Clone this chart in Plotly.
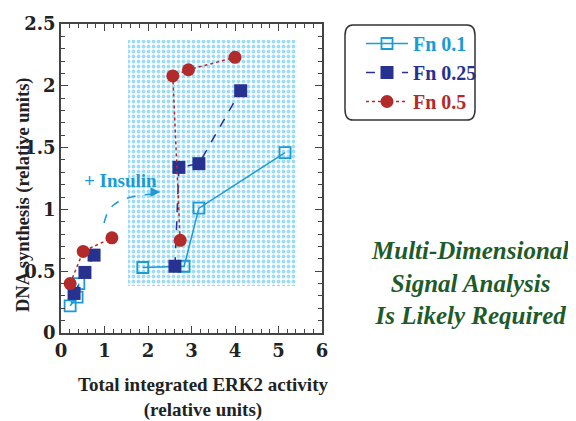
import plotly.graph_objects as go

# ---- data ----
fn01_x = [0.21, 0.37, 0.41, None, 1.88, 2.83, 3.17, 5.15]
fn01_y = [0.22, 0.29, 0.40, None, 0.53, 0.54, 1.01, 1.46]
fn025_x = [0.30, 0.55, 0.76, None, 2.62, 2.71, 3.17, 4.13]
fn025_y = [0.32, 0.49, 0.63, None, 0.54, 1.34, 1.37, 1.96]
fn05_x = [0.21, 0.51, 1.17, None, 2.74, 2.57, 2.93, 4.00]
fn05_y = [0.40, 0.66, 0.77, None, 0.75, 2.08, 2.13, 2.23]

region_x = [1.54, 5.42, 5.42, 1.54, 1.54]
region_y = [0.38, 0.38, 2.37, 2.37, 0.38]

x_ticks = [0, 1, 2, 3, 4, 5, 6]
y_ticks = [0, 0.5, 1, 1.5, 2, 2.5]
y_tick_text = ["0", "0.5", "1", "1.5", "2", "2.5"]

CYAN = "#1a9bd7"
NAVY = "#27318f"
RED = "#b32a2a"
GREEN = "#1e5b2a"
SERIF = "Liberation Serif"
WIDE_SERIF = "DejaVu Serif"

# plot-area geometry (window pixels) used to place paper-referenced items
PX0, PX1, PY0, PY1 = 61, 322, 24, 333


def px(xp):
    return (xp - PX0) / (PX1 - PX0)


def py(yp):
    return (PY1 - yp) / (PY1 - PY0)


fig = go.Figure()

# shaded (dotted) region
fig.add_trace(go.Scatter(
    x=region_x, y=region_y, mode="lines", fill="toself",
    line=dict(width=0, color="rgba(0,0,0,0)"),
    fillcolor="rgba(0,0,0,0)",
    fillpattern=dict(shape=".", fgcolor="#3cb9ef", bgcolor="white",
                     size=5, solidity=0.45),
    showlegend=False, hoverinfo="skip"))

fig.add_trace(go.Scatter(
    x=fn01_x, y=fn01_y, mode="lines+markers", connectgaps=False,
    name='<span style="color:%s">Fn 0.1</span>' % CYAN,
    line=dict(color=CYAN, width=1.5, dash="solid"),
    marker=dict(symbol="square-open", size=11, color=CYAN,
                line=dict(width=1.8, color=CYAN))))

fig.add_trace(go.Scatter(
    x=fn025_x, y=fn025_y, mode="lines+markers", connectgaps=False,
    name='<span style="color:%s">Fn 0.25</span>' % NAVY,
    line=dict(color=NAVY, width=1.5, dash="dash"),
    marker=dict(symbol="square", size=13, color=NAVY)))

fig.add_trace(go.Scatter(
    x=fn05_x, y=fn05_y, mode="lines+markers", connectgaps=False,
    name='<span style="color:%s">Fn 0.5</span>' % RED,
    line=dict(color=RED, width=1.5, dash="dot"),
    marker=dict(symbol="circle", size=13, color=RED)))

# curved insulin arrow (dashed)
fig.add_shape(type="path",
              path="M 0.99,0.89 C 1.10,1.05 1.30,1.10 2.20,1.13",
              line=dict(color=CYAN, width=1.5, dash="dash"))
fig.add_annotation(x=2.28, y=1.14, ax=2.05, ay=1.14, xref="x", yref="y",
                   axref="x", ayref="y", text="", showarrow=True,
                   arrowhead=2, arrowsize=1.3, arrowwidth=1.5,
                   arrowcolor=CYAN)
fig.add_annotation(x=1.37, y=1.23, xref="x", yref="y", text="+ Insulin",
                   showarrow=False, xanchor="center", yanchor="middle",
                   font=dict(family=SERIF, size=19, color=CYAN, weight="bold"))

# legend rounded box
L, R, T, B = px(345), px(475), py(25), py(120)
rx, ry = 0.03, 0.035
fig.add_shape(type="path", xref="paper", yref="paper",
              path=(f"M {L+rx},{T} L {R-rx},{T} Q {R},{T} {R},{T-ry} "
                    f"L {R},{B+ry} Q {R},{B} {R-rx},{B} L {L+rx},{B} "
                    f"Q {L},{B} {L},{B+ry} L {L},{T-ry} Q {L},{T} {L+rx},{T} Z"),
              line=dict(color="#333333", width=1.5), fillcolor="white",
              layer="below")

# side text
fig.add_annotation(x=px(470), y=py(283), xref="paper", yref="paper",
                   xanchor="center", yanchor="middle",
                   text="Multi-Dimensional<br>Signal Analysis<br>Is Likely Required",
                   showarrow=False, align="center",
                   font=dict(family=SERIF, size=25, color=GREEN,
                             weight="bold", style="italic"))

# x-axis title
fig.add_annotation(x=px(203), y=py(397), xref="paper", yref="paper",
                   xanchor="center", yanchor="middle",
                   text="Total integrated ERK2 activity<br>(relative units)",
                   showarrow=False, align="center",
                   font=dict(family=SERIF, size=19, color="#222222", weight="bold"))

# y-axis title
fig.add_annotation(x=px(23), y=py(195), xref="paper", yref="paper",
                   xanchor="center", yanchor="middle", textangle=-90,
                   text="DNA synthesis (relative units)", showarrow=False,
                   font=dict(family=SERIF, size=18.5, color="#222222",
                             weight="bold"))

axis_common = dict(
    showgrid=False, zeroline=False, showline=True, linecolor="#444444",
    linewidth=1.8, mirror="allticks", ticks="inside", ticklen=7,
    tickwidth=1.2, tickcolor="#444444",
    tickfont=dict(family=WIDE_SERIF, size=18, color="#222222", weight="bold"),
)

fig.update_xaxes(range=[0, 6], tickvals=x_ticks,
                 minor=dict(dtick=0.2, ticks="inside", ticklen=4,
                            tickcolor="#444444", tickwidth=1),
                 **axis_common)
fig.update_yaxes(range=[0, 2.5], tickvals=y_ticks, ticktext=y_tick_text,
                 minor=dict(dtick=0.1, ticks="inside", ticklen=4,
                            tickcolor="#444444", tickwidth=1),
                 **axis_common)

# the page body adds an 8px offset, so the figure is 8px smaller
fig.update_layout(
    width=568, height=413,
    margin=dict(l=PX0 - 8, r=576 - PX1, t=PY0 - 8, b=421 - PY1, autoexpand=False),
    plot_bgcolor="white", paper_bgcolor="white",
    showlegend=True,
    legend=dict(x=px(361), y=py(24), xanchor="left", yanchor="top",
                bgcolor="rgba(0,0,0,0)", borderwidth=0,
                font=dict(family=SERIF, size=20, weight="bold"),
                itemwidth=42),
)

fig.write_html("out.html")
